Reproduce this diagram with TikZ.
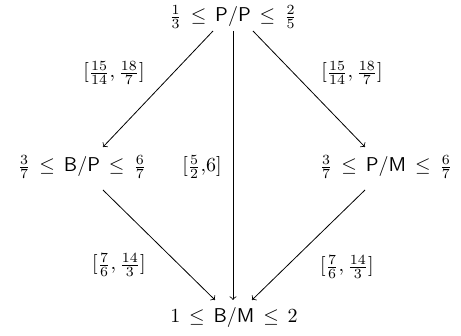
\documentclass[tikz,border=0pt]{standalone}
\usetikzlibrary{calc}
\begin{document}
\begin{tikzpicture}[x=0.5pt,y=-0.5pt,>=to,
  lab/.style={inner sep=0pt},
  edge/.style={->,line width=0.4pt}]
\useasboundingbox (0,0) rectangle (461,336);
\node[lab] (top) at (233,17) {$\frac{1}{3}\,\le\,\mathsf{P/P}\,\le\,\frac{2}{5}$};
\node[lab] (left) at (82,167) {$\frac{3}{7}\,\le\,\mathsf{B/P}\,\le\,\frac{6}{7}$};
\node[lab] (right) at (386,167) {$\frac{3}{7}\,\le\,\mathsf{P/M}\,\le\,\frac{6}{7}$};
\node[lab] (bot) at (234,318) {$1\,\le\,\mathsf{B/M}\,\le\,2$};
\node[lab] (l1) at (114,73) {$[\frac{15}{14},\frac{18}{7}]$};
\node[lab] (r1) at (352,73) {$[\frac{15}{14},\frac{18}{7}]$};
\node[lab] (m1) at (202,167) {$[\frac{5}{2}{,}6]$};
\node[lab] (l2) at (119,265) {$[\frac{7}{6},\frac{14}{3}]$};
\node[lab] (r2) at (347,267) {$[\frac{7}{6},\frac{14}{3}]$};
\draw[edge] ($(top)+(-20,14)$) -- ($(left)+(21,-20)$);
\draw[edge] ($(top)+(20,14)$) -- ($(right)+(-21,-20)$);
\draw[edge] ($(top)+(0,14)$) -- ($(bot)+(-1,-18)$);
\draw[edge] ($(left)+(21,23)$) -- ($(bot)+(-19,-18)$);
\draw[edge] ($(right)+(-21,23)$) -- ($(bot)+(18,-18)$);
\end{tikzpicture}
\end{document}
